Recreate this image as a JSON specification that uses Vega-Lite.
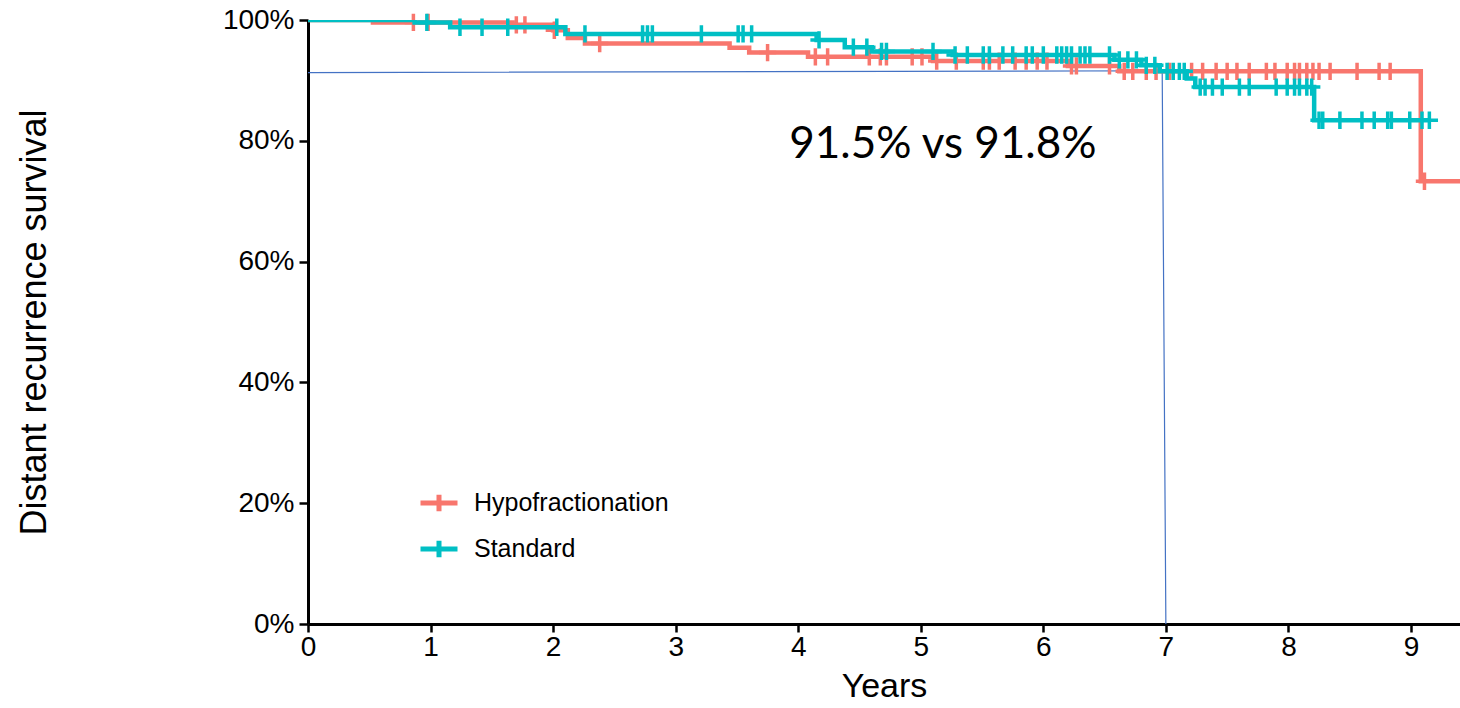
{
  "$schema": "https://vega.github.io/schema/vega-lite/v6.json",
  "width": 1152,
  "height": 604,
  "autosize": {"type": "none"},
  "padding": {"left": 308, "top": 20, "right": 0, "bottom": 84},
  "background": "white",
  "config": {
    "view": {"stroke": null},
    "axis": {"grid": false, "domainColor": "black", "domainWidth": 3, "tickColor": "black", "tickWidth": 2.5, "labelColor": "black", "titleColor": "black", "labelFont": "Liberation Sans", "titleFont": "Liberation Sans", "titleFontWeight": "normal"},
    "legend": {"orient": "none", "legendX": 110, "legendY": 462, "title": null, "labelFont": "Liberation Sans", "labelFontSize": 25, "labelColor": "black", "labelLimit": 0, "symbolType": "M-1,0H1M0,-0.45V0.45", "symbolSize": 1369, "symbolStrokeWidth": 5, "labelOffset": 14, "rowPadding": 6, "padding": 0}
  },
  "datasets": {
    "curves": [
      {"g": "Hypofractionation", "t": 0, "s": 1.0},
      {"g": "Hypofractionation", "t": 0.53, "s": 0.996},
      {"g": "Hypofractionation", "t": 1.67, "s": 0.992},
      {"g": "Hypofractionation", "t": 2.0, "s": 0.983},
      {"g": "Hypofractionation", "t": 2.12, "s": 0.970},
      {"g": "Hypofractionation", "t": 2.26, "s": 0.961},
      {"g": "Hypofractionation", "t": 3.44, "s": 0.954},
      {"g": "Hypofractionation", "t": 3.6, "s": 0.946},
      {"g": "Hypofractionation", "t": 4.08, "s": 0.939},
      {"g": "Hypofractionation", "t": 5.1, "s": 0.932},
      {"g": "Hypofractionation", "t": 6.2, "s": 0.924},
      {"g": "Hypofractionation", "t": 6.62, "s": 0.915},
      {"g": "Hypofractionation", "t": 9.08, "s": 0.733},
      {"g": "Hypofractionation", "t": 9.4, "s": 0.733},
      {"g": "Standard", "t": 0, "s": 1.0},
      {"g": "Standard", "t": 0.87, "s": 0.996},
      {"g": "Standard", "t": 1.16, "s": 0.988},
      {"g": "Standard", "t": 2.1, "s": 0.977},
      {"g": "Standard", "t": 4.15, "s": 0.967},
      {"g": "Standard", "t": 4.38, "s": 0.955},
      {"g": "Standard", "t": 4.6, "s": 0.948},
      {"g": "Standard", "t": 5.26, "s": 0.942},
      {"g": "Standard", "t": 6.58, "s": 0.934},
      {"g": "Standard", "t": 6.8, "s": 0.925},
      {"g": "Standard", "t": 6.95, "s": 0.915},
      {"g": "Standard", "t": 7.17, "s": 0.903},
      {"g": "Standard", "t": 7.24, "s": 0.889},
      {"g": "Standard", "t": 8.21, "s": 0.834},
      {"g": "Standard", "t": 9.15, "s": 0.834}
    ],
    "censors": [
      {"g": "Hypofractionation", "t": 0.86, "s": 0.996},
      {"g": "Hypofractionation", "t": 0.98, "s": 0.996},
      {"g": "Hypofractionation", "t": 1.70, "s": 0.992},
      {"g": "Hypofractionation", "t": 1.77, "s": 0.992},
      {"g": "Hypofractionation", "t": 2.01, "s": 0.983},
      {"g": "Hypofractionation", "t": 2.38, "s": 0.961},
      {"g": "Hypofractionation", "t": 3.75, "s": 0.946},
      {"g": "Hypofractionation", "t": 4.14, "s": 0.939},
      {"g": "Hypofractionation", "t": 4.24, "s": 0.939},
      {"g": "Hypofractionation", "t": 4.58, "s": 0.939},
      {"g": "Hypofractionation", "t": 4.67, "s": 0.939},
      {"g": "Hypofractionation", "t": 4.72, "s": 0.939},
      {"g": "Hypofractionation", "t": 4.93, "s": 0.939},
      {"g": "Hypofractionation", "t": 5.01, "s": 0.939},
      {"g": "Hypofractionation", "t": 5.13, "s": 0.932},
      {"g": "Hypofractionation", "t": 5.29, "s": 0.932},
      {"g": "Hypofractionation", "t": 5.51, "s": 0.932},
      {"g": "Hypofractionation", "t": 5.56, "s": 0.932},
      {"g": "Hypofractionation", "t": 5.64, "s": 0.932},
      {"g": "Hypofractionation", "t": 5.77, "s": 0.932},
      {"g": "Hypofractionation", "t": 5.86, "s": 0.932},
      {"g": "Hypofractionation", "t": 5.95, "s": 0.932},
      {"g": "Hypofractionation", "t": 6.03, "s": 0.932},
      {"g": "Hypofractionation", "t": 6.23, "s": 0.924},
      {"g": "Hypofractionation", "t": 6.27, "s": 0.924},
      {"g": "Hypofractionation", "t": 6.54, "s": 0.924},
      {"g": "Hypofractionation", "t": 6.66, "s": 0.915},
      {"g": "Hypofractionation", "t": 6.73, "s": 0.915},
      {"g": "Hypofractionation", "t": 6.84, "s": 0.915},
      {"g": "Hypofractionation", "t": 6.92, "s": 0.915},
      {"g": "Hypofractionation", "t": 7.03, "s": 0.915},
      {"g": "Hypofractionation", "t": 7.21, "s": 0.915},
      {"g": "Hypofractionation", "t": 7.30, "s": 0.915},
      {"g": "Hypofractionation", "t": 7.41, "s": 0.915},
      {"g": "Hypofractionation", "t": 7.50, "s": 0.915},
      {"g": "Hypofractionation", "t": 7.58, "s": 0.915},
      {"g": "Hypofractionation", "t": 7.68, "s": 0.915},
      {"g": "Hypofractionation", "t": 7.82, "s": 0.915},
      {"g": "Hypofractionation", "t": 7.89, "s": 0.915},
      {"g": "Hypofractionation", "t": 7.99, "s": 0.915},
      {"g": "Hypofractionation", "t": 8.05, "s": 0.915},
      {"g": "Hypofractionation", "t": 8.09, "s": 0.915},
      {"g": "Hypofractionation", "t": 8.15, "s": 0.915},
      {"g": "Hypofractionation", "t": 8.20, "s": 0.915},
      {"g": "Hypofractionation", "t": 8.25, "s": 0.915},
      {"g": "Hypofractionation", "t": 8.34, "s": 0.915},
      {"g": "Hypofractionation", "t": 8.56, "s": 0.915},
      {"g": "Hypofractionation", "t": 8.74, "s": 0.915},
      {"g": "Hypofractionation", "t": 8.83, "s": 0.915},
      {"g": "Hypofractionation", "t": 9.11, "s": 0.733},
      {"g": "Standard", "t": 0.97, "s": 0.996},
      {"g": "Standard", "t": 1.24, "s": 0.988},
      {"g": "Standard", "t": 1.42, "s": 0.988},
      {"g": "Standard", "t": 1.63, "s": 0.988},
      {"g": "Standard", "t": 2.03, "s": 0.988},
      {"g": "Standard", "t": 2.26, "s": 0.977},
      {"g": "Standard", "t": 2.73, "s": 0.977},
      {"g": "Standard", "t": 2.77, "s": 0.977},
      {"g": "Standard", "t": 2.81, "s": 0.977},
      {"g": "Standard", "t": 3.21, "s": 0.977},
      {"g": "Standard", "t": 3.51, "s": 0.977},
      {"g": "Standard", "t": 3.55, "s": 0.977},
      {"g": "Standard", "t": 3.62, "s": 0.977},
      {"g": "Standard", "t": 4.17, "s": 0.967},
      {"g": "Standard", "t": 4.45, "s": 0.955},
      {"g": "Standard", "t": 4.56, "s": 0.955},
      {"g": "Standard", "t": 4.68, "s": 0.948},
      {"g": "Standard", "t": 4.72, "s": 0.948},
      {"g": "Standard", "t": 5.10, "s": 0.948},
      {"g": "Standard", "t": 5.28, "s": 0.942},
      {"g": "Standard", "t": 5.38, "s": 0.942},
      {"g": "Standard", "t": 5.51, "s": 0.942},
      {"g": "Standard", "t": 5.56, "s": 0.942},
      {"g": "Standard", "t": 5.67, "s": 0.942},
      {"g": "Standard", "t": 5.75, "s": 0.942},
      {"g": "Standard", "t": 5.86, "s": 0.942},
      {"g": "Standard", "t": 5.91, "s": 0.942},
      {"g": "Standard", "t": 6.00, "s": 0.942},
      {"g": "Standard", "t": 6.11, "s": 0.942},
      {"g": "Standard", "t": 6.15, "s": 0.942},
      {"g": "Standard", "t": 6.19, "s": 0.942},
      {"g": "Standard", "t": 6.23, "s": 0.942},
      {"g": "Standard", "t": 6.30, "s": 0.942},
      {"g": "Standard", "t": 6.34, "s": 0.942},
      {"g": "Standard", "t": 6.38, "s": 0.942},
      {"g": "Standard", "t": 6.54, "s": 0.942},
      {"g": "Standard", "t": 6.62, "s": 0.934},
      {"g": "Standard", "t": 6.69, "s": 0.934},
      {"g": "Standard", "t": 6.76, "s": 0.934},
      {"g": "Standard", "t": 6.84, "s": 0.925},
      {"g": "Standard", "t": 6.91, "s": 0.925},
      {"g": "Standard", "t": 7.01, "s": 0.915},
      {"g": "Standard", "t": 7.06, "s": 0.915},
      {"g": "Standard", "t": 7.11, "s": 0.915},
      {"g": "Standard", "t": 7.15, "s": 0.915},
      {"g": "Standard", "t": 7.28, "s": 0.889},
      {"g": "Standard", "t": 7.32, "s": 0.889},
      {"g": "Standard", "t": 7.38, "s": 0.889},
      {"g": "Standard", "t": 7.46, "s": 0.889},
      {"g": "Standard", "t": 7.60, "s": 0.889},
      {"g": "Standard", "t": 7.68, "s": 0.889},
      {"g": "Standard", "t": 7.90, "s": 0.889},
      {"g": "Standard", "t": 7.99, "s": 0.889},
      {"g": "Standard", "t": 8.05, "s": 0.889},
      {"g": "Standard", "t": 8.09, "s": 0.889},
      {"g": "Standard", "t": 8.15, "s": 0.889},
      {"g": "Standard", "t": 8.19, "s": 0.889},
      {"g": "Standard", "t": 8.25, "s": 0.834},
      {"g": "Standard", "t": 8.28, "s": 0.834},
      {"g": "Standard", "t": 8.42, "s": 0.834},
      {"g": "Standard", "t": 8.60, "s": 0.834},
      {"g": "Standard", "t": 8.70, "s": 0.834},
      {"g": "Standard", "t": 8.81, "s": 0.834},
      {"g": "Standard", "t": 8.84, "s": 0.834},
      {"g": "Standard", "t": 8.99, "s": 0.834},
      {"g": "Standard", "t": 9.09, "s": 0.834},
      {"g": "Standard", "t": 9.15, "s": 0.834}
    ],
    "ref": [
      {"t": 0, "s": 0.913},
      {"t": 6.97, "s": 0.916},
      {"t": 7.0, "s": 0.0}
    ],
    "note": [
      {"label": "91.5% vs 91.8%"}
    ]
  },
  "layer": [
    {
      "data": {"name": "ref"},
      "mark": {"type": "line", "color": "#4472C4", "strokeWidth": 1.2},
      "encoding": {
        "x": {"field": "t", "type": "quantitative",
          "scale": {"domain": [0, 9.4], "nice": false, "zero": false},
          "axis": {"title": "Years", "values": [0, 1, 2, 3, 4, 5, 6, 7, 8, 9], "format": "d", "labelFontSize": 28, "titleFontSize": 34, "tickSize": 8, "labelPadding": 1, "titlePadding": 8, "labelFlush": false}},
        "y": {"field": "s", "type": "quantitative",
          "scale": {"domain": [0, 1], "nice": false},
          "axis": {"title": "Distant recurrence survival", "values": [0, 0.2, 0.4, 0.6, 0.8, 1], "format": ".0%", "labelFontSize": 28, "titleFontSize": 36, "tickSize": 9, "labelPadding": 5, "titleX": -263, "titleBaseline": "alphabetic", "labelFlush": false}}
      }
    },
    {
      "data": {"name": "curves"},
      "transform": [{"filter": "datum.g === 'Hypofractionation'"}],
      "mark": {"type": "line", "interpolate": "step-after", "strokeWidth": 4.5, "clip": true},
      "encoding": {
        "x": {"field": "t", "type": "quantitative"},
        "y": {"field": "s", "type": "quantitative"},
        "color": {"field": "g", "type": "nominal", "scale": {"domain": ["Hypofractionation", "Standard"], "range": ["#F8766D", "#00BFC4"]}}
      }
    },
    {
      "data": {"name": "censors"},
      "transform": [{"filter": "datum.g === 'Hypofractionation'"}],
      "mark": {"type": "point", "shape": "M-1,0H1M0,-1V1", "size": 300, "strokeWidth": 3.5, "filled": false, "opacity": 1},
      "encoding": {
        "x": {"field": "t", "type": "quantitative"},
        "y": {"field": "s", "type": "quantitative"},
        "color": {"field": "g", "type": "nominal"}
      }
    },
    {
      "data": {"name": "curves"},
      "transform": [{"filter": "datum.g === 'Standard'"}],
      "mark": {"type": "line", "interpolate": "step-after", "strokeWidth": 4.5, "clip": true},
      "encoding": {
        "x": {"field": "t", "type": "quantitative"},
        "y": {"field": "s", "type": "quantitative"},
        "color": {"field": "g", "type": "nominal"}
      }
    },
    {
      "data": {"name": "censors"},
      "transform": [{"filter": "datum.g === 'Standard'"}],
      "mark": {"type": "point", "shape": "M-1,0H1M0,-1V1", "size": 300, "strokeWidth": 3.5, "filled": false, "opacity": 1},
      "encoding": {
        "x": {"field": "t", "type": "quantitative"},
        "y": {"field": "s", "type": "quantitative"},
        "color": {"field": "g", "type": "nominal"}
      }
    },
    {
      "data": {"name": "note"},
      "mark": {"type": "text", "font": "Lato", "fontSize": 44, "align": "center", "baseline": "alphabetic", "color": "black"},
      "encoding": {
        "x": {"datum": 5.18, "type": "quantitative"},
        "y": {"datum": 0.772, "type": "quantitative"},
        "text": {"field": "label", "type": "nominal"}
      }
    }
  ]
}
